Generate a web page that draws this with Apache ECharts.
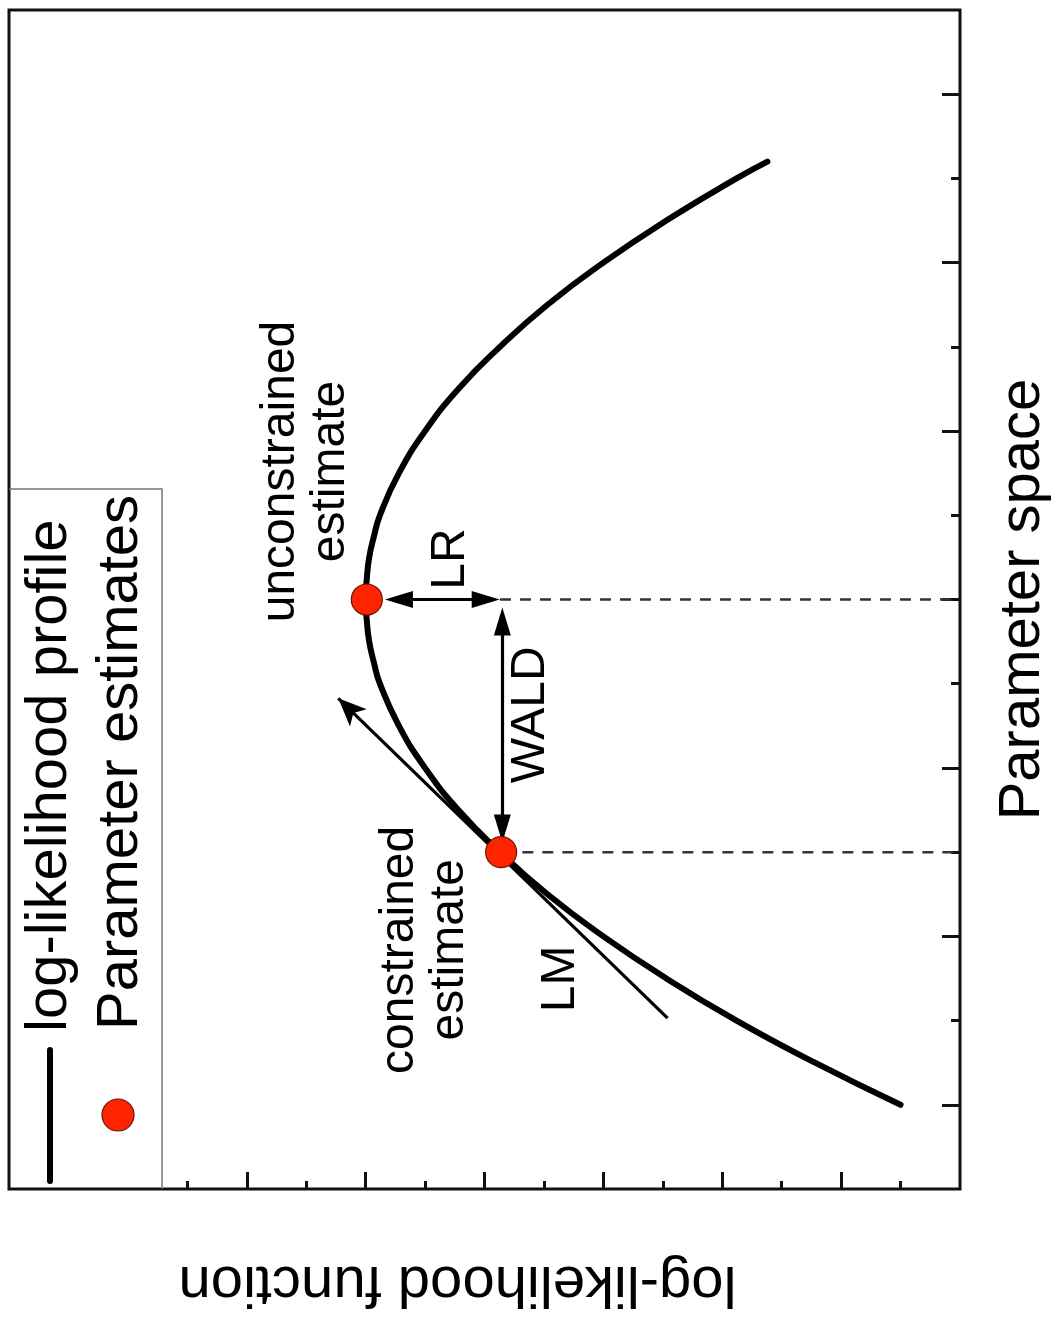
<!DOCTYPE html>
<html>
<head>
<meta charset="utf-8">
<script src="https://cdn.jsdelivr.net/npm/echarts@6/dist/echarts.min.js"></script>
<style>
html,body{margin:0;padding:0;background:#fff;}
#chart{width:1053px;height:1320px;}
</style>
</head>
<body>
<div id="chart"></div>
<script>
// ---------- data ----------
// log-likelihood profile: parameter value and log-likelihood value
const profileParam  = [0.5, 0.75, 1.0, 1.25, 1.5, 1.75, 2.0, 2.25, 2.5, 2.75, 3.0, 3.125, 3.25, 3.375, 3.5, 3.625, 3.75, 3.875, 4.0, 4.25, 4.5, 4.75, 5.0, 5.25, 5.5, 5.75, 6.0, 6.1];
const profileLogLik = [0.5, 1.22, 1.88, 2.47, 3.0, 3.47, 3.87, 4.22, 4.5, 4.72, 4.88, 4.93, 4.97, 4.99, 5.0, 4.99, 4.97, 4.93, 4.88, 4.72, 4.5, 4.22, 3.87, 3.47, 3.0, 2.47, 1.88, 1.62];

// parameter estimates
const estimateNames  = ['unconstrained estimate', 'constrained estimate'];
const estimateParam  = [3.5, 2.0];
const estimateLogLik = [4.99, 3.86];

// tick positions (no tick labels are printed)
const paramMajorTicks  = [0.5, 1.5, 2.5, 3.5, 4.5, 5.5, 6.5];
const paramMinorTicks  = [1, 2, 3, 4, 5, 6];
const logLikMajorTicks = [1, 2, 3, 4, 5, 6];
const logLikMinorTicks = [0.5, 1.5, 2.5, 3.5, 4.5, 5.5, 6.5];

// LM tangent (arrow end last)
const lmLogLik = [2.46, 5.23];
const lmParam  = [1.015, 2.913];
// LR double arrow
const lrLogLik = [4.72, 3.99];
const lrParam  = 3.5;
// WALD double arrow
const waldParam  = [3.37, 2.14];
const waldLogLik = 3.85;
// dashed drop lines from the estimates to the parameter axis
const dropParam  = [3.5, 2.0];
const dropLogLik = [3.87, 3.85];

// annotation texts and where they sit
const noteTexts  = ['unconstrained\nestimate', 'LR', 'WALD', 'constrained\nestimate', 'LM'];
const noteLogLik = [5.50, 4.28, 3.61, 4.50, 3.36];
const noteParam  = [4.26, 3.74, 2.815, 1.42, 1.247];

const legendNames = ['log-likelihood profile', 'Parameter estimates'];
const xName = 'log-likelihood function';
const yName = 'Parameter space';

// ---------- chart ----------
const FONT = "'Liberation Sans', Arial, Helvetica, sans-serif";
const RED = '#fe2400';
const chart = echarts.init(document.getElementById('chart'), null, {renderer: 'canvas'});

const hiddenAxisBits = {
  axisLine: {show: false},
  splitLine: {show: false},
  axisLabel: {show: false}
};

const option = {
  animation: false,
  backgroundColor: '#fff',
  grid: {
    left: 9, right: 93, top: 10, bottom: 131,
    show: true, borderColor: '#111', borderWidth: 3,
    backgroundColor: 'transparent',
    containLabel: false,
    outerBoundsMode: 'none'
  },
  xAxis: [
    Object.assign({
      type: 'value', min: 0, max: 8, inverse: true, position: 'bottom',
      axisTick: {show: true, inside: true, length: 17, customValues: logLikMajorTicks,
                 lineStyle: {color: '#111', width: 3}},
      name: xName, nameLocation: 'middle', nameRotate: 180, nameGap: 65,
      nameMoveOverlap: false,
      nameTextStyle: {fontSize: 58, color: '#000', fontFamily: FONT, padding: [0, 0, 0, 54]}
    }, hiddenAxisBits),
    Object.assign({
      type: 'value', min: 0, max: 8, inverse: true, position: 'bottom',
      axisTick: {show: true, inside: true, length: 8, customValues: logLikMinorTicks,
                 lineStyle: {color: '#111', width: 3}}
    }, hiddenAxisBits)
  ],
  yAxis: [
    Object.assign({
      type: 'value', min: 0, max: 7, position: 'right',
      axisTick: {show: true, inside: true, length: 18, customValues: paramMajorTicks,
                 lineStyle: {color: '#111', width: 3}},
      name: yName, nameLocation: 'middle', nameRotate: 90, nameGap: 34,
      nameMoveOverlap: false,
      nameTextStyle: {fontSize: 58, color: '#000', fontFamily: FONT}
    }, hiddenAxisBits),
    Object.assign({
      type: 'value', min: 0, max: 7, position: 'right',
      axisTick: {show: true, inside: true, length: 9, customValues: paramMinorTicks,
                 lineStyle: {color: '#111', width: 3}}
    }, hiddenAxisBits)
  ],
  series: [
    // dashed drop lines
    {
      type: 'line', name: 'drop1', silent: true, symbol: 'none', z: 1,
      data: [[dropLogLik[0], dropParam[0]], [0, dropParam[0]]],
      lineStyle: {color: '#333', width: 2.5, type: [11, 9]}
    },
    {
      type: 'line', name: 'drop2', silent: true, symbol: 'none', z: 1,
      data: [[dropLogLik[1], dropParam[1]], [0, dropParam[1]]],
      lineStyle: {color: '#333', width: 2.5, type: [11, 9]}
    },
    // arrows: LM tangent, LR, WALD
    {
      type: 'line', name: 'arrows', silent: true, data: [], z: 2,
      markLine: {
        silent: true, animation: false,
        label: {show: false},
        emphasis: {disabled: true},
        lineStyle: {color: '#000', width: 3.2, type: 'solid'},
        data: [
          [{coord: [lmLogLik[0], lmParam[0]], symbol: 'none'},
           {coord: [lmLogLik[1], lmParam[1]], symbol: 'arrow', symbolSize: [18, 28]}],
          [{coord: [lrLogLik[0], lrParam], symbol: 'triangle', symbolSize: [17, 28]},
           {coord: [lrLogLik[1], lrParam], symbol: 'triangle', symbolSize: [17, 28]}],
          [{coord: [waldLogLik, waldParam[0]], symbol: 'triangle', symbolSize: [17, 28]},
           {coord: [waldLogLik, waldParam[1]], symbol: 'triangle', symbolSize: [17, 28]}]
        ]
      }
    },
    // log-likelihood profile
    {
      type: 'line', name: legendNames[0], silent: true, z: 3,
      data: profileParam.map((p, i) => [profileLogLik[i], p]),
      smooth: 0.5, showSymbol: false, symbol: 'none',
      lineStyle: {color: '#000', width: 6, cap: 'round', join: 'round'}
    },
    // parameter estimates
    {
      type: 'scatter', name: legendNames[1], silent: true, z: 5,
      data: estimateParam.map((p, i) => ({name: estimateNames[i], value: [estimateLogLik[i], p]})),
      symbol: 'circle', symbolSize: 31,
      itemStyle: {color: RED, borderColor: '#6a1800', borderWidth: 1.2, opacity: 1}
    },
    // annotation texts
    {
      type: 'scatter', name: 'notes', silent: true, z: 6,
      symbol: 'circle', symbolSize: 2,
      itemStyle: {color: 'rgba(0,0,0,0)', borderWidth: 0},
      data: noteTexts.map((t, i) => ({name: t, value: [noteLogLik[i], noteParam[i]]})),
      label: {
        show: true, position: 'inside', rotate: 90, opacity: 1,
        formatter: (d) => d.name,
        fontSize: 48, lineHeight: 50, color: '#000', fontFamily: FONT,
        align: 'center', verticalAlign: 'middle'
      },
      labelLayout: {hideOverlap: false}
    }
  ],
  graphic: [
    {
      type: 'polyline', silent: true, z: 10,
      shape: {points: [[9, 489], [162, 489], [162, 1189]]},
      style: {stroke: '#777', lineWidth: 1.5, fill: null}
    },
    {
      type: 'line', silent: true, z: 10,
      shape: {x1: 50, y1: 1050, x2: 50, y2: 1181},
      style: {stroke: '#000', lineWidth: 6, lineCap: 'round'}
    },
    {
      type: 'circle', silent: true, z: 10,
      shape: {cx: 118, cy: 1115, r: 16},
      style: {fill: RED, stroke: '#6a1800', lineWidth: 1.2}
    },
    {
      type: 'text', silent: true, z: 10, x: 50, y: 1032, rotation: Math.PI / 2,
      style: {text: legendNames[0], fontSize: 58, fontFamily: FONT, fill: '#000',
              align: 'left', verticalAlign: 'middle'}
    },
    {
      type: 'text', silent: true, z: 10, x: 121, y: 1030, rotation: Math.PI / 2,
      style: {text: legendNames[1], fontSize: 58, fontFamily: FONT, fill: '#000',
              align: 'left', verticalAlign: 'middle'}
    }
  ]
};
chart.setOption(option);
</script>
</body>
</html>
